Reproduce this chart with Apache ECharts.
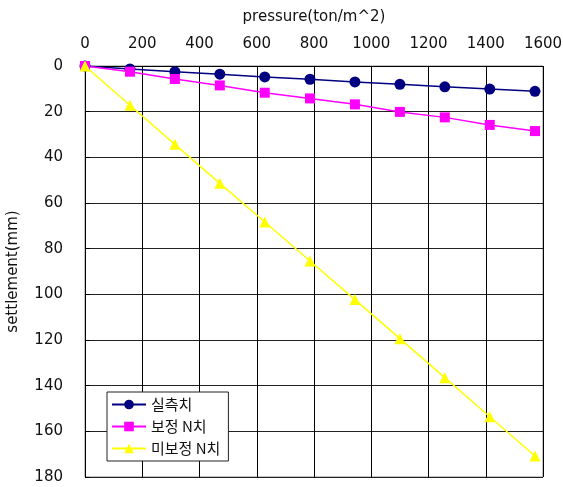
<!DOCTYPE html>
<html>
<head>
<meta charset="utf-8">
<script src="https://cdn.jsdelivr.net/npm/echarts@6/dist/echarts.min.js"></script>
<style>
  html, body { margin: 0; padding: 0; background: #fff; }
  #chart { width: 563px; height: 487px; }
</style>
</head>
<body>
<div id="chart"></div>
<script>
var pressure = [0, 157, 314, 471, 628, 786, 943, 1100, 1257, 1414, 1572];
var measured = [0, 1.3, 2.5, 3.6, 4.8, 5.8, 7.0, 8.0, 9.1, 10.1, 11.1];
var corrected = [0, 2.5, 5.7, 8.5, 11.7, 14.2, 16.8, 20.1, 22.5, 25.8, 28.5];
var uncorrected = [0, 17.2, 34.3, 51.4, 68.3, 85.4, 102.3, 119.4, 136.5, 153.6, 170.8];
var seriesNames = ['실측치', '보정 N치', '미보정 N치'];
var colors = ['#000080', '#ff00ff', '#ffff00'];

function pairs(ys) {
  var out = [];
  for (var i = 0; i < pressure.length; i++) out.push([pressure[i], ys[i]]);
  return out;
}

var font = 'DejaVu Sans, sans-serif';
var chart = echarts.init(document.getElementById('chart'));

var option = {
  backgroundColor: '#fff',
  animation: false,
  color: colors,
  grid: { left: 85, right: 20, top: 66, bottom: 10, outerBoundsMode: 'none', containLabel: false,
    show: true, borderColor: '#888', borderWidth: 1 },
  legend: {
    orient: 'vertical',
    left: 107,
    top: 392,
    itemWidth: 34,
    itemHeight: 12,
    itemGap: 7,
    padding: [5, 8, 5, 4],
    backgroundColor: '#fff',
    borderColor: '#222',
    borderWidth: 1,
    borderRadius: 0,
    textStyle: { fontFamily: 'Noto Sans CJK KR', fontSize: 15, color: '#111' },
    data: seriesNames
  },
  xAxis: {
    type: 'value',
    position: 'top',
    min: 0, max: 1600, interval: 200,
    name: 'pressure(ton/m^2)',
    nameLocation: 'middle',
    nameGap: 41,
    nameTextStyle: { fontFamily: font, fontSize: 15, color: '#111' },
    axisLine: { show: true, lineStyle: { color: '#000' } },
    axisTick: { show: false },
    axisLabel: { fontFamily: font, fontSize: 15, color: '#111', margin: 14,
      formatter: function (v) { return String(v); } },
    splitLine: { show: true, lineStyle: { color: '#000', width: 1 } }
  },
  yAxis: {
    type: 'value',
    inverse: true,
    min: 0, max: 180, interval: 20,
    name: 'settlement(mm)',
    nameLocation: 'middle',
    nameGap: 64,
    nameTextStyle: { fontFamily: font, fontSize: 15, color: '#111' },
    axisLine: { show: true, lineStyle: { color: '#000' } },
    axisTick: { show: true, inside: true, length: 5, lineStyle: { color: '#000' } },
    axisLabel: { fontFamily: font, fontSize: 15, color: '#111', margin: 22,
      formatter: function (v) { return String(v); } },
    splitLine: { show: true, lineStyle: { color: '#222', width: 1 } }
  },
  series: [
    { name: seriesNames[0], type: 'line', data: pairs(measured), symbol: 'circle', symbolSize: 11,
      lineStyle: { width: 1.5, color: colors[0] }, itemStyle: { color: colors[0] } },
    { name: seriesNames[1], type: 'line', data: pairs(corrected), symbol: 'rect', symbolSize: 10,
      lineStyle: { width: 1.5, color: colors[1] }, itemStyle: { color: colors[1] } },
    { name: seriesNames[2], type: 'line', data: pairs(uncorrected), symbol: 'triangle', symbolSize: 11,
      lineStyle: { width: 1.5, color: colors[2] }, itemStyle: { color: colors[2] } }
  ]
};

chart.setOption(option);
</script>
</body>
</html>
